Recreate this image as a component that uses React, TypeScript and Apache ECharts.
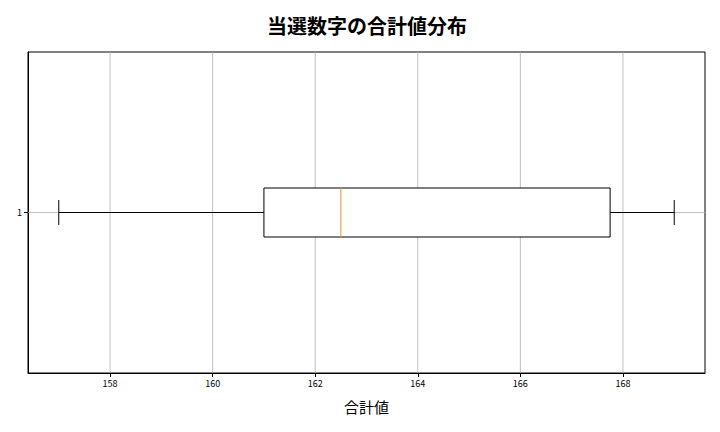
import { useEffect, useRef } from 'react'
import * as echarts from 'echarts'

// 箱ひげ図の統計値 [最小, 第1四分位, 中央値, 第3四分位, 最大]
const categories = [1]
const whiskerLow = [157]
const q1 = [161]
const median = [162.5]
const q3 = [167.75]
const whiskerHigh = [169]
const xTicks = [158, 160, 162, 164, 166, 168]

const FONT = '"Noto Sans CJK JP", "Noto Sans", sans-serif'

export default function App() {
  const chartRef = useRef<HTMLDivElement>(null)

  useEffect(() => {
    if (!chartRef.current) return
    const chart = echarts.init(chartRef.current, undefined, { renderer: 'svg' })

    const data = categories.map((c, i) => [c, whiskerLow[i], q1[i], median[i], q3[i], whiskerHigh[i]])

    const option: echarts.EChartsOption = {
      animation: false,
      backgroundColor: '#fff',
      title: {
        text: '当選数字の合計値分布',
        left: 262,
        top: 10,
        textStyle: { fontFamily: FONT, fontSize: 20, fontWeight: 'bold', color: '#000' },
      },
      grid: {
        left: 28,
        right: 15,
        top: 52,
        bottom: 59,
        show: true,
        borderColor: '#000',
        borderWidth: 1,
        backgroundColor: 'transparent',
      },
      xAxis: {
        type: 'value',
        min: 156.4,
        max: 169.6,
        name: '合計値',
        nameLocation: 'middle',
        nameGap: 26,
        nameTextStyle: { fontFamily: FONT, fontSize: 15, color: '#000' },
        axisLine: { show: true, lineStyle: { color: '#000' } },
        axisTick: {
          show: true,
          length: 4,
          lineStyle: { color: '#000' },
          customValues: xTicks,
        },
        axisLabel: {
          fontFamily: FONT,
          fontSize: 9,
          color: '#000',
          margin: 6,
          customValues: xTicks,
        },
        splitLine: { show: false },
      },
      yAxis: {
        type: 'value',
        min: 0.5,
        max: 1.5,
        interval: 0.5,
        axisLine: { show: true, lineStyle: { color: '#000' } },
        axisTick: { show: true, length: 4, lineStyle: { color: '#000' }, customValues: categories },
        axisLabel: {
          fontFamily: FONT,
          fontSize: 9,
          color: '#000',
          margin: 6,
          customValues: categories,
        },
        splitLine: { show: false },
      },
      series: [
        {
          type: 'custom',
          data,
          z: 1,
          renderItem: (params: any, api: any) => {
            const y = api.value(0)
            const cs = params.coordSys
            const children: any[] = []
            // グリッド線
            xTicks.forEach((t) => {
              const p = api.coord([t, y])
              children.push({
                type: 'line',
                shape: { x1: p[0], y1: cs.y, x2: p[0], y2: cs.y + cs.height },
                style: { stroke: '#b0b0b0', lineWidth: 0.8 },
              })
            })
            const yc = api.coord([xTicks[0], y])[1]
            children.push({
              type: 'line',
              shape: { x1: cs.x, y1: yc, x2: cs.x + cs.width, y2: yc },
              style: { stroke: '#b0b0b0', lineWidth: 0.8 },
            })
            return { type: 'group', children }
          },
        },
        {
          type: 'custom',
          data,
          z: 2,
          renderItem: (_params: any, api: any) => {
            const y = api.value(0)
            const lo = api.coord([api.value(1), y])
            const b1 = api.coord([api.value(2), y])
            const md = api.coord([api.value(3), y])
            const b3 = api.coord([api.value(4), y])
            const hi = api.coord([api.value(5), y])
            const boxH = 49
            const capH = 25
            const yc = lo[1]
            const stroke = { stroke: '#000', lineWidth: 1, fill: 'none' }
            return {
              type: 'group',
              children: [
                { type: 'line', shape: { x1: lo[0], y1: yc, x2: b1[0], y2: yc }, style: stroke },
                { type: 'line', shape: { x1: b3[0], y1: yc, x2: hi[0], y2: yc }, style: stroke },
                { type: 'line', shape: { x1: lo[0], y1: yc - capH / 2, x2: lo[0], y2: yc + capH / 2 }, style: stroke },
                { type: 'line', shape: { x1: hi[0], y1: yc - capH / 2, x2: hi[0], y2: yc + capH / 2 }, style: stroke },
                {
                  type: 'rect',
                  shape: { x: b1[0], y: yc - boxH / 2, width: b3[0] - b1[0], height: boxH },
                  style: { stroke: '#000', lineWidth: 1, fill: '#fff' },
                },
                {
                  type: 'line',
                  shape: { x1: md[0], y1: yc - boxH / 2, x2: md[0], y2: yc + boxH / 2 },
                  style: { stroke: '#e8952a', lineWidth: 1 },
                },
              ],
            }
          },
        },
      ],
    }

    chart.setOption(option)
    return () => {
      chart.dispose()
    }
  }, [])

  return <div ref={chartRef} style={{ position: 'fixed', left: 0, top: 0, width: 720, height: 432 }} />
}
